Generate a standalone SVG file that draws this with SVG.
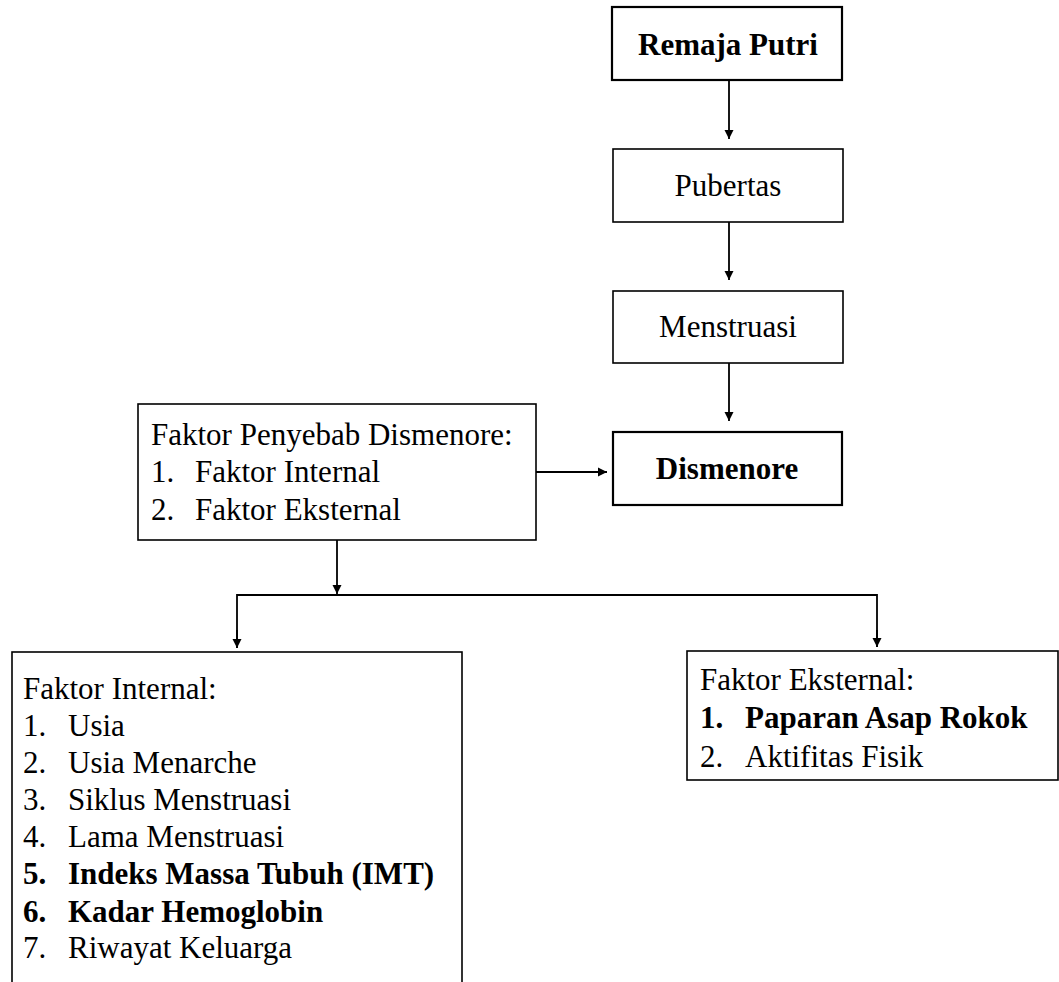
<svg xmlns="http://www.w3.org/2000/svg" width="1059" height="982" viewBox="0 0 1059 982">
<style>
text{font-family:"Liberation Serif","Times New Roman",serif;font-size:31px;fill:#000}
.b{font-weight:bold}
.box{fill:#fff;stroke:#000;stroke-width:1.6}
.thick{stroke-width:2.2}
.c{text-anchor:middle}
.ln{fill:none;stroke:#000;stroke-width:1.8}
</style>
<defs>
<marker id="ah" viewBox="0 0 10 10" refX="10" refY="5" markerWidth="9" markerHeight="11" markerUnits="userSpaceOnUse" orient="auto">
<path d="M0,0 L10,5 L0,10 Z" fill="#000"/>
</marker>
</defs>
<g id="connectors">
<line class="ln" x1="729" y1="80" x2="729" y2="139" marker-end="url(#ah)"/>
<line class="ln" x1="729" y1="222" x2="729" y2="280" marker-end="url(#ah)"/>
<line class="ln" x1="729" y1="363" x2="729" y2="421" marker-end="url(#ah)"/>
<line class="ln" x1="536" y1="472" x2="607" y2="472" marker-end="url(#ah)"/>
<line class="ln" x1="337" y1="540" x2="337" y2="594" marker-end="url(#ah)"/>
<polyline class="ln" points="237,648 237,595 877,595 877,647"/>
<line class="ln" x1="237" y1="630" x2="237" y2="648" marker-end="url(#ah)"/>
<line class="ln" x1="877" y1="630" x2="877" y2="647" marker-end="url(#ah)"/>
</g>
<g id="remaja">
<rect class="box thick" x="612" y="7" width="230" height="73"/>
<text class="b c" x="728" y="55">Remaja Putri</text>
</g>
<g id="pubertas">
<rect class="box" x="613" y="149" width="230" height="73"/>
<text class="c" x="728" y="196">Pubertas</text>
</g>
<g id="menstruasi">
<rect class="box" x="613" y="291" width="230" height="72"/>
<text class="c" x="728" y="337">Menstruasi</text>
</g>
<g id="dismenore">
<rect class="box thick" x="613" y="432" width="229" height="73"/>
<text class="b c" x="727" y="479">Dismenore</text>
</g>
<g id="penyebab">
<rect class="box" x="138" y="404" width="398" height="136"/>
<text x="151" y="445">Faktor Penyebab Dismenore:</text>
<text x="151" y="482">1.</text><text x="195" y="482">Faktor Internal</text>
<text x="151" y="520">2.</text><text x="195" y="520">Faktor Eksternal</text>
</g>
<g id="internal">
<rect class="box" x="12" y="652" width="450" height="340"/>
<text x="23" y="699">Faktor Internal:</text>
<text x="23" y="736">1.</text><text x="68" y="736">Usia</text>
<text x="23" y="773">2.</text><text x="68" y="773">Usia Menarche</text>
<text x="23" y="810">3.</text><text x="68" y="810">Siklus Menstruasi</text>
<text x="23" y="847">4.</text><text x="68" y="847">Lama Menstruasi</text>
<text class="b" x="23" y="884">5.</text><text class="b" x="68" y="884">Indeks Massa Tubuh (IMT)</text>
<text class="b" x="23" y="922">6.</text><text class="b" x="68" y="922">Kadar Hemoglobin</text>
<text x="23" y="958">7.</text><text x="68" y="958">Riwayat Keluarga</text>
</g>
<g id="eksternal">
<rect class="box" x="687" y="651" width="371" height="129"/>
<text x="700" y="690">Faktor Eksternal:</text>
<text class="b" x="700" y="728">1.</text><text class="b" x="745" y="728">Paparan Asap Rokok</text>
<text x="700" y="767">2.</text><text x="745" y="767">Aktifitas Fisik</text>
</g>
</svg>
